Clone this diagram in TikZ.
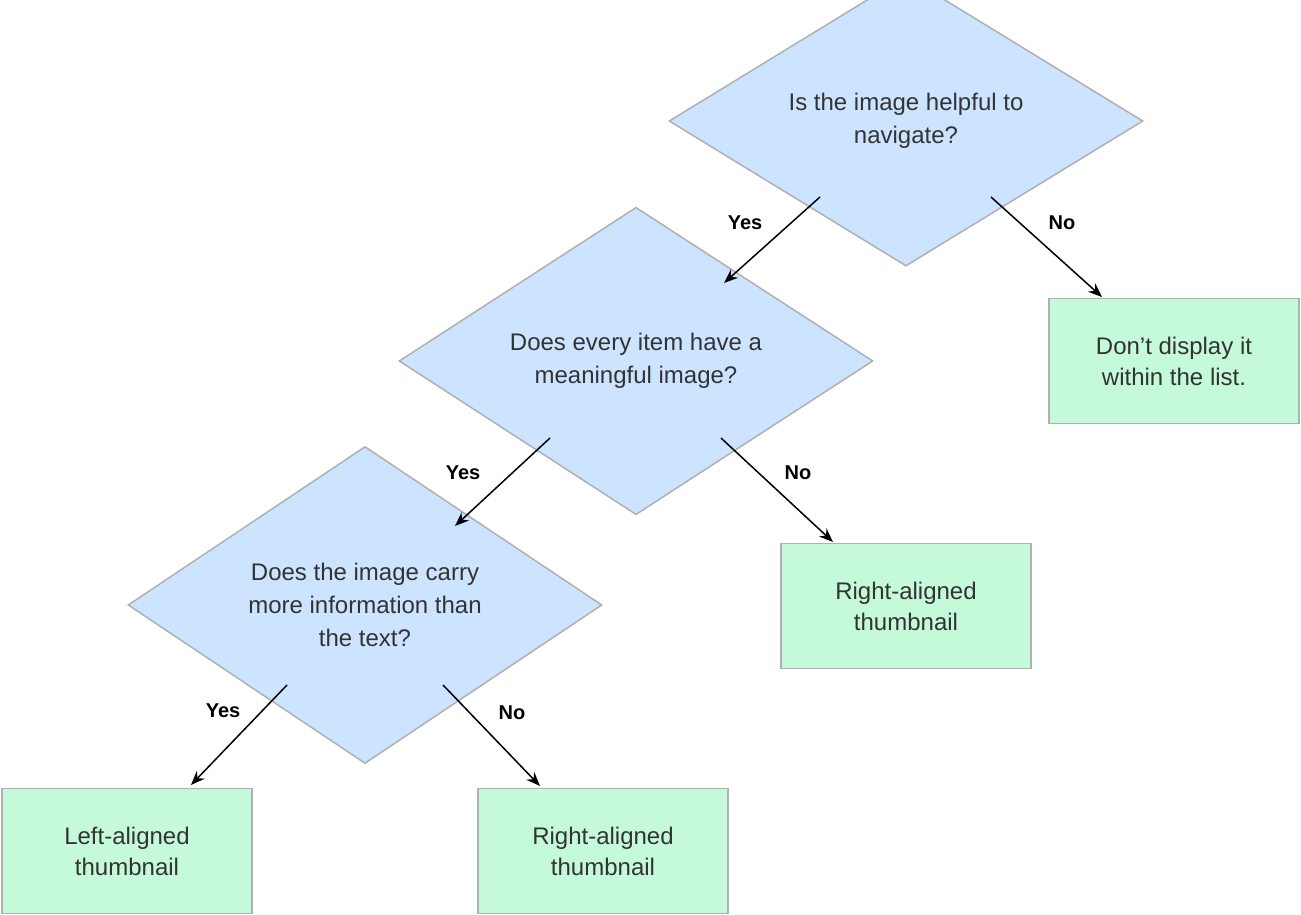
\documentclass[tikz,border=0pt]{standalone}
\usepackage{fontspec}
\setmainfont{Liberation Sans}
\usetikzlibrary{shapes.geometric,arrows.meta}
\definecolor{dfill}{HTML}{CCE4FF}
\definecolor{bfill}{HTML}{C4FADA}
\definecolor{edge}{HTML}{B0B0B0}
\definecolor{txt}{HTML}{333333}
\begin{document}
\begin{tikzpicture}[x=1pt,y=-1pt,
 dec/.style={diamond,draw=edge,line width=1.5pt,fill=dfill,minimum width=474pt,minimum height=236pt,inner sep=0pt,align=center,text=txt,font=\fontsize{24}{33}\selectfont},
 res/.style={rectangle,draw=edge,line width=1.5pt,fill=bfill,minimum width=250pt,minimum height=125pt,align=center,text=txt,font=\fontsize{24}{31}\selectfont},
 arr/.style={-{Stealth[length=14pt,width=11pt]},line width=1.5pt},
 lab/.style={font=\bfseries\fontsize{20}{24}\selectfont}]
\useasboundingbox (0,0) rectangle (1301,915);
\node[dec] (d1) at (906,121) {Is the image helpful to\\navigate?};
\node[dec] (d2) at (636,361) {Does every item have a\\meaningful image?};
\node[dec] (d3) at (365,605) {Does the image carry\\more information than\\the text?};
\node[res] (ba) at (1174,361) {Don’t display it\\within the list.};
\node[res] (bb) at (906,606) {Right-aligned\\thumbnail};
\node[res] (bc) at (127,851) {Left-aligned\\thumbnail};
\node[res] (bd) at (603,851) {Right-aligned\\thumbnail};
\coordinate (s1) at (820,197); \coordinate (e1) at (724,283);
\coordinate (s2) at (991,197); \coordinate (e2) at (1102,297);
\coordinate (s3) at (550,438); \coordinate (e3) at (455,526);
\coordinate (s4) at (721,438); \coordinate (e4) at (833,542);
\coordinate (s5) at (287,685); \coordinate (e5) at (191,785);
\coordinate (s6) at (443,685); \coordinate (e6) at (540,786);
\draw[arr] (s1) -- (e1); \draw[arr] (s2) -- (e2);
\draw[arr] (s3) -- (e3); \draw[arr] (s4) -- (e4);
\draw[arr] (s5) -- (e5); \draw[arr] (s6) -- (e6);
\node[lab] (l1) at (745,223) {Yes}; \node[lab] (l2) at (1062,223) {No};
\node[lab] (l3) at (463,473) {Yes}; \node[lab] (l4) at (798,473) {No};
\node[lab] (l5) at (223,711) {Yes}; \node[lab] (l6) at (512,713) {No};
\end{tikzpicture}
\end{document}
